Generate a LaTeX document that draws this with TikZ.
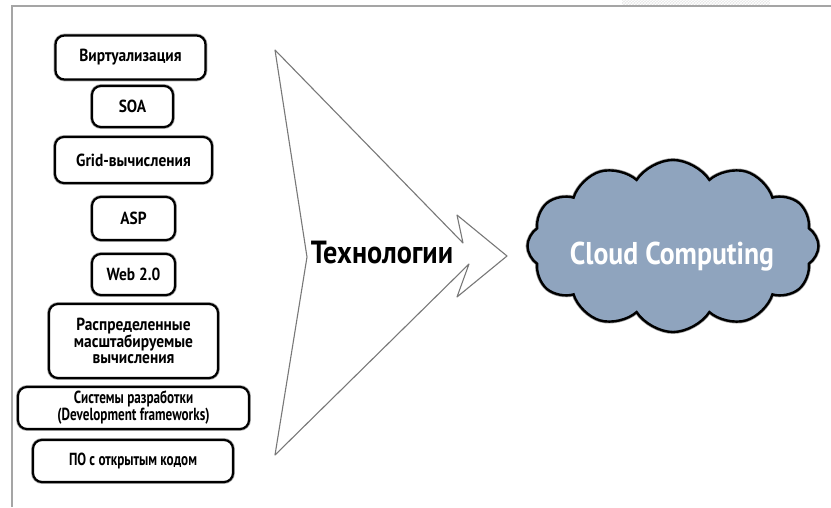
\documentclass[tikz,border=0pt]{standalone}
\usepackage{fontspec}
\setmainfont{PT Sans}[FakeStretch=0.88]
\newfontfamily\narrowsans{PT Sans}[FakeStretch=0.75]
\usetikzlibrary{shapes.symbols,patterns}
\definecolor{cloudblue}{RGB}{143,164,190}
\definecolor{framegray}{RGB}{165,165,165}
\definecolor{arrowgray}{RGB}{120,120,120}
\tikzset{
  techbox/.style={draw=black, line width=2.2pt, rounded corners=9pt, fill=white,
    preaction={draw=black!35, line width=3.8pt},
    inner sep=0pt, align=center,
    font=\bfseries\fontsize{17.5}{16.5}\selectfont},
  narrowtext/.style={font=\narrowsans\bfseries\fontsize{17.5}{15.5}\selectfont},
  bigtext/.style={font=\bfseries\fontsize{32}{34}\selectfont, inner sep=0pt},
  cloudnode/.style={cloud, cloud puffs=12, cloud puff arc=115, cloud ignores aspect,
    draw=black, line width=2.4pt, fill=cloudblue,
    preaction={draw=black!40, line width=3.8pt},
    minimum width=291pt, minimum height=172pt, inner sep=0pt},
}
\begin{document}
\begin{tikzpicture}[x=1pt, y=-1pt]
\useasboundingbox (0,0) rectangle (831,507);

% page frame and the shaded tab at the top edge
\fill[gray!18] (622,0) rectangle (770,5);
\fill[pattern=crosshatch, pattern color=white] (622,0) rectangle (770,5);
\draw[framegray, line width=1.6pt] (12,507) -- (12,6) -- (831,6);

% technologies feeding into the cloud
\node[techbox, minimum width=150pt, minimum height=44pt] (virt) at (130.5,57.5) {Виртуализация};
\node[techbox, minimum width=81pt,  minimum height=41pt] (soa)  at (132.5,106.5) {SOA};
\node[techbox, minimum width=157pt, minimum height=46pt] (grid) at (133.5,160) {Grid-вычисления};
\node[techbox, minimum width=83pt,  minimum height=43pt] (asp)  at (133.5,218.5) {ASP};
\node[techbox, minimum width=83pt,  minimum height=41pt] (web)  at (133.5,274.5) {Web 2.0};
\node[techbox, minimum width=169pt, minimum height=74pt] (dist) at (133.5,341) {Распределенные\\масштабируемые\\вычисления};
\node[techbox, narrowtext, minimum width=231pt, minimum height=42pt] (dev)  at (133.5,408) {Системы разработки\\(Development frameworks)};
\node[techbox, narrowtext, minimum width=200pt, minimum height=42pt] (oss)  at (133,461) {ПО с открытым кодом};

% large chevron arrow
\draw[arrowgray, line width=1.1pt, line join=round, fill=white]
  (275,50) -- (463,243) -- (457,215) -- (507,256) -- (457,297) -- (469,264)
  -- (275,455) -- (307,257) -- cycle;
\node[bigtext, anchor=base] (tech) at (382,263) {Технологии};

% target cloud
\node[cloudnode] (cloud) at (673,246) {};
\node[text=white, font=\bfseries\fontsize{31.5}{33}\selectfont, inner sep=0pt, anchor=base] (cc) at (672,264) {Cloud Computing};
\end{tikzpicture}
\end{document}
